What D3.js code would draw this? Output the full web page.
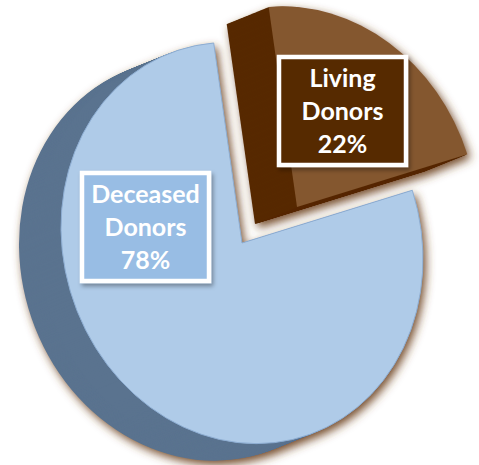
<!DOCTYPE html>
<html>
<head>
<meta charset="utf-8">
<script src="https://cdn.jsdelivr.net/npm/d3@7"></script>
<style>
  body { margin: 0; background: #fff; }
</style>
</head>
<body>
<div id="chart"></div>
<script>
// data
const categories = ["Deceased Donors", "Living Donors"];
const values = [78, 22];
const topColors = ["#afcbe8", "#84572f"];
const sideColors = ["#5a738f", "#572900"];
const boxColors = ["#98bde4", "#572900"];

// const
const width = 479;
const height = 465;
const center = { x: 242, y: 243 };
const rx = 181, ry = 200, skew = 0.088;   // tilted top face
const depth = { dx: -42, dy: 17, steps: 42 };
const explode = [{ dx: 0, dy: 0 }, { dx: 55, dy: -36 }];
const labelPos = [[145.5, 227], [342.5, 111]];
const box = { w: 127, h: 108 };
const startDeg = 70.2;

// svg
const svg = d3.select('#chart')
    .append('svg')
    .attr('width', width)
    .attr('height', height)
    .attr('style', 'background:#fff');

const defs = svg.append('defs');
const sh = defs.append('filter').attr('id', 'pieShadow')
    .attr('x', '-20%').attr('y', '-20%').attr('width', '140%').attr('height', '140%');
sh.append('feGaussianBlur').attr('in', 'SourceAlpha').attr('stdDeviation', 5).attr('result', 'b');
sh.append('feOffset').attr('in', 'b').attr('dx', 3).attr('dy', 4).attr('result', 'o');
sh.append('feFlood').attr('flood-color', '#6e4320').attr('flood-opacity', 0.95);
sh.append('feComposite').attr('in2', 'o').attr('operator', 'in');

const bs = defs.append('filter').attr('id', 'boxShadow')
    .attr('x', '-20%').attr('y', '-20%').attr('width', '140%').attr('height', '140%');
bs.append('feDropShadow').attr('dx', 2).attr('dy', 3).attr('stdDeviation', 2)
    .attr('flood-color', '#000').attr('flood-opacity', 0.35);

// pie
const pie = d3.pie().sort(null)
    .startAngle(startDeg * Math.PI / 180)
    .endAngle(startDeg * Math.PI / 180 + 2 * Math.PI);
const arcs = pie(values);
const arc = d3.arc().innerRadius(0).outerRadius(100);
const tilt = `matrix(${rx / 100},${skew * rx / 100},0,${ry / 100},0,0)`;

function drawSlice(g, d, i, plain) {
    const gs = g.append('g')
        .attr('transform', `translate(${center.x + explode[i].dx},${center.y + explode[i].dy})`);
    d3.range(depth.steps, 0, -1).forEach(k => {
        gs.append('path')
            .attr('d', arc(d))
            .attr('transform', `translate(${depth.dx * k / depth.steps},${depth.dy * k / depth.steps}) ${tilt}`)
            .attr('fill', sideColors[i]);
    });
    const top = gs.append('path')
        .attr('d', arc(d))
        .attr('transform', tilt)
        .attr('fill', topColors[i]);
    if (plain && i === 0) {
        top.attr('stroke', '#8eaed3').attr('stroke-width', 1)
           .attr('vector-effect', 'non-scaling-stroke');
    }
}

// shadow layer under both slices
const shadowLayer = svg.append('g').attr('filter', 'url(#pieShadow)');
arcs.forEach((d, i) => drawSlice(shadowLayer, d, i, false));

// slices
const sliceLayer = svg.append('g');
arcs.forEach((d, i) => drawSlice(sliceLayer, d, i, true));

// labels
const labels = svg.append('g')
    .selectAll('g')
    .data(arcs)
    .join('g')
    .attr('transform', (d, i) => `translate(${labelPos[i][0]},${labelPos[i][1]})`);

labels.append('rect')
    .attr('x', -box.w / 2)
    .attr('y', -box.h / 2)
    .attr('width', box.w)
    .attr('height', box.h)
    .attr('fill', (d, i) => boxColors[i])
    .attr('stroke', '#fff')
    .attr('stroke-width', 4.5)
    .attr('filter', 'url(#boxShadow)');

labels.each(function (d, i) {
    const lines = categories[i].split(' ').concat([values[i] + '%']);
    d3.select(this).selectAll('text')
        .data(lines)
        .join('text')
        .attr('x', 0)
        .attr('y', (t, j) => -24 + j * 33)
        .attr('text-anchor', 'middle')
        .attr('fill', '#fff')
        .attr('font-family', 'Lato, "Open Sans", sans-serif')
        .attr('font-weight', 700)
        .attr('font-size', 25)
        .text(t => t);
});
</script>
</body>
</html>
